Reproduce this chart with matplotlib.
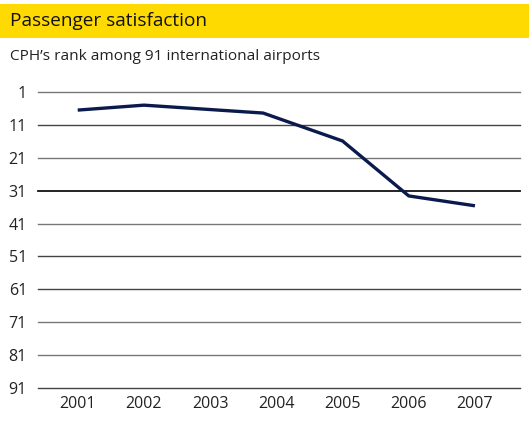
import matplotlib
matplotlib.use("Agg")
import matplotlib.pyplot as plt
from matplotlib.patches import Rectangle

plt.rcParams["font.family"] = ["Open Sans", "DejaVu Sans"]

# data
years = [2001, 2002, 2003.8, 2005, 2006, 2007]
ranks = [6.5, 5.0, 7.4, 15.9, 32.6, 35.6]
year_ticks = [2001, 2002, 2003, 2004, 2005, 2006, 2007]
rank_ticks = [1, 11, 21, 31, 41, 51, 61, 71, 81, 91]
grid_colors = ["#777777", "#444444", "#777777", "#111111", "#777777",
               "#444444", "#444444", "#777777", "#777777", "#444444"]

title = "Passenger satisfaction"
subtitle = "CPH\u2019s rank among 91 international airports"


def main():
    W, H = 529, 423
    fig = plt.figure(figsize=(W / 100, H / 100), dpi=100)

    # yellow header band
    fig.patches.append(Rectangle((0, 1 - 38 / H), 1, 34 / H, transform=fig.transFigure,
                                 facecolor="#FFDA00", edgecolor="none", zorder=0))
    fig.text(10 / W, 1 - 21 / H, title, fontsize=13.7, va="center", ha="left", color="#111111")
    fig.text(10 / W, 1 - 57 / H, subtitle, fontsize=11.1, va="center", ha="left", color="#222222")

    ax = fig.add_axes([38 / W, 35 / H, (520 - 38) / W, (388 - 92) / H])
    for r, c in zip(rank_ticks, grid_colors):
        ax.axhline(r, color=c, lw=1.0 if c != "#111111" else 1.3, zorder=1, clip_on=False)

    ax.plot(years, ranks, color="#0B1A4C", lw=2.4, solid_capstyle="butt",
            solid_joinstyle="miter", zorder=3)

    ax.set_xlim(2000.40, 2007.68)
    ax.set_ylim(91, 1)
    ax.set_yticks(rank_ticks)
    ax.set_xticks(year_ticks)
    ax.set_xticklabels([str(y) for y in year_ticks])
    ax.tick_params(length=0, labelsize=11.5, colors="#222222")
    ax.tick_params(axis="y", pad=8)
    ax.tick_params(axis="x", pad=6)
    for s in ax.spines.values():
        s.set_visible(False)
    ax.patch.set_alpha(0)

    fig.savefig("out.png", dpi=100)


if __name__ == "__main__":
    main()
